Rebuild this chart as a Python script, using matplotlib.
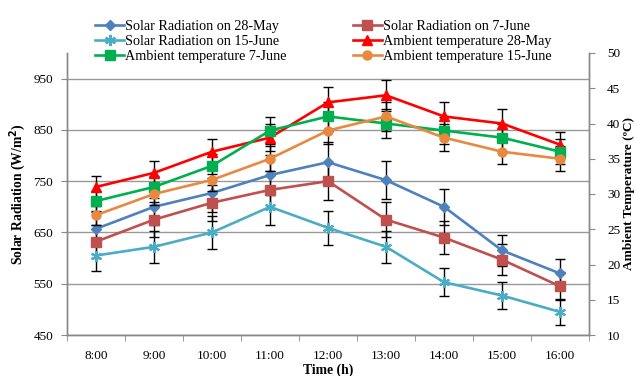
import matplotlib
matplotlib.use("Agg")
import matplotlib.pyplot as plt
import numpy as np

plt.rcParams['font.family'] = ['Liberation Serif', 'DejaVu Serif']

times = ["8:00", "9:00", "10:00", "11:00", "12:00", "13:00", "14:00", "15:00", "16:00"]
sr_28may = [657, 700, 727, 762, 787, 752, 700, 615, 570]
sr_7june = [632, 675, 708, 733, 750, 675, 640, 597, 545]
sr_15june = [605, 622, 650, 700, 659, 622, 553, 527, 495]
at_28may = [31, 33, 36, 38, 43, 44, 41, 40, 37]
at_7june = [29, 31, 34, 39, 41, 40, 39, 38, 36]
at_15june = [27, 30, 32, 35, 39, 41, 38, 36, 35]
err_frac = 0.05

fig = plt.figure(figsize=(6.35, 3.76), dpi=100)
ax = fig.add_axes([67/635, 41/376, 522/635, 282/376])
ax2 = ax.twinx()

x = np.arange(len(times))
lw = 1.9
ms = 6.5

def plot(axis, y, color, marker, label, msize=ms, **kw):
    y = np.array(y, dtype=float)
    axis.errorbar(x, y, yerr=y * err_frac, fmt='none', ecolor='black',
                  elinewidth=1.0, capsize=3.5, capthick=1.0, zorder=2)
    h, = axis.plot(x, y, color=color, lw=lw, marker=marker, markersize=msize,
                   label=label, zorder=3, **kw)
    return h

h1 = plot(ax, sr_28may, '#4F81BD', 'D', 'Solar Radiation on 28-May', msize=5.5)
h2 = plot(ax, sr_7june, '#C0504D', 's', 'Solar Radiation on 7-June')
h3 = plot(ax, sr_15june, '#4BACC6', (6, 2, 0), 'Solar Radiation on 15-June',
          msize=8, markeredgewidth=1.5)
h4 = plot(ax2, at_28may, '#FF0000', '^', 'Ambient temperature 28-May')
h5 = plot(ax2, at_7june, '#00B050', 's', 'Ambient temperature 7-June')
h6 = plot(ax2, at_15june, '#E8893F', 'o', 'Ambient temperature 15-June')

ax.set_xlim(-0.5, len(times) - 0.5)
ax.set_ylim(450, 1000)
ax.set_yticks(np.arange(450, 1000, 100))
ax2.set_ylim(10, 50)
ax2.set_yticks(np.arange(10, 51, 5))

ax.set_xticks(x)
ax.set_xticklabels(times)
ax.set_xticks(np.arange(-0.5, len(times), 1.0), minor=True)
ax.tick_params(axis='x', which='major', length=0, pad=11, labelsize=9.5)
ax.tick_params(axis='x', which='minor', length=4, color='#888888', direction='out')
ax.tick_params(axis='y', length=4, color='#888888', labelsize=9.5, pad=6)
ax2.tick_params(axis='y', length=4, color='#888888', labelsize=9.5, pad=9)

ax.yaxis.grid(True, color='#999999', lw=1.0)
ax.set_axisbelow(True)
for a in (ax, ax2):
    a.spines['top'].set_visible(False)
    for s in ('left', 'right', 'bottom'):
        a.spines[s].set_color('#888888')
        a.spines[s].set_linewidth(1.0)

ax.set_ylabel('Solar Radiation (W/m$^\\mathbf{2}$)', fontsize=9.8, fontweight='bold', labelpad=4)
ax2.set_ylabel('Ambient Temperature (ºC)', fontsize=9.5, fontweight='bold', labelpad=2)
ax.set_xlabel('Time (h)', fontsize=9.8, fontweight='bold', labelpad=1)

fig.legend(handles=[h1, h3, h5, h2, h4, h6], ncol=2, frameon=False,
           loc='upper left', bbox_to_anchor=(95/635, 0.947), fontsize=10.2,
           handlelength=2.05, handletextpad=0.08, labelspacing=0.14,
           columnspacing=4.65, borderaxespad=0.0, borderpad=0.0)

fig.savefig('out.png', dpi=100)
